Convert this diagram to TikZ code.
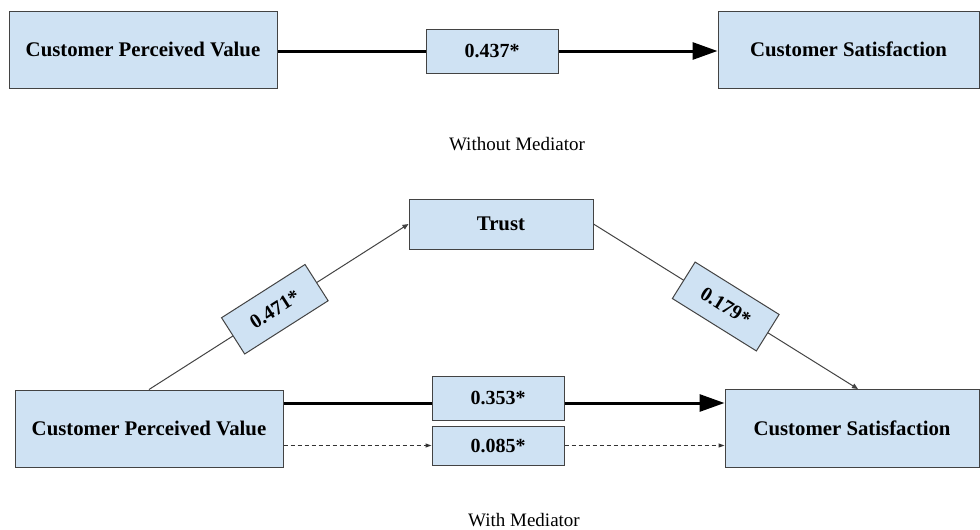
\documentclass[tikz,border=0pt]{standalone}
\usepackage{fontspec}
\setmainfont{Liberation Serif}
\usetikzlibrary{arrows.meta}
\definecolor{boxfill}{HTML}{CFE2F3}
\definecolor{boxline}{HTML}{434343}
\tikzset{
  varbox/.style={draw=boxline, line width=1pt, fill=boxfill, inner sep=0pt, font=\fontsize{20.8}{24}\selectfont\bfseries},
  coefbox/.style={draw=boxline, line width=1pt, fill=boxfill, inner sep=0pt, minimum width=132pt, font=\fontsize{20}{24}\selectfont\bfseries},
  slopebox/.style={draw=boxline, line width=1pt, fill=boxfill, inner sep=0pt, minimum width=99pt, minimum height=43pt, sloped, font=\fontsize{20}{24}\selectfont\bfseries},
  thickarrow/.style={line width=3pt, -{Triangle[length=25pt,width=17pt]}},
  thickline/.style={line width=3pt},
  thinarrow/.style={line width=1pt, draw=boxline, -{Triangle[length=6pt,width=5pt]}},
  dasharrow/.style={line width=1.1pt, draw=black!80, dash pattern=on 4pt off 3pt, -{Triangle[length=6pt,width=4pt]}},
  caption/.style={font=\fontsize{19}{22}\selectfont, anchor=base}
}
\begin{document}
\begin{tikzpicture}[x=1pt, y=-1pt]
\useasboundingbox (0,0) rectangle (980,530);
% top
\node[varbox, minimum width=268pt, minimum height=77pt] (cpv1) at (143,49.5) {Customer Perceived Value};
\node[varbox, minimum width=261pt, minimum height=77pt] (cs1) at (848.5,49.5) {Customer Satisfaction};
\node[coefbox, minimum height=44pt] (l437) at (492,51) {0.437*};
\draw[thickline] (cpv1.east |- l437) -- (l437.west);
\draw[thickarrow] (l437.east) -- (cs1.west |- l437);
\node[caption] (cap1) at (517,150) {Without Mediator};
% bottom
\node[varbox, minimum width=184pt, minimum height=50pt] (trust) at (501,224) {Trust};
\node[varbox, minimum width=268pt, minimum height=77pt] (cpv2) at (149,428.5) {Customer Perceived Value};
\node[varbox, minimum width=254pt, minimum height=78pt] (cs2) at (852,428) {Customer Satisfaction};
\node[coefbox, minimum height=44pt] (l353) at (498,398) {0.353*};
\node[coefbox, minimum height=39pt] (l085) at (498,445.5) {0.085*};
\coordinate (mainy) at (0,403);
\coordinate (csin) at (858,389);
\draw[thickline] (cpv2.east |- mainy) -- (l353.west |- mainy);
\draw[thickarrow] (l353.east |- mainy) -- (cs2.west |- mainy);
\draw[dasharrow] (cpv2.east |- l085) -- (l085.west);
\draw[dasharrow] (l085.east) -- (cs2.west |- l085);
\draw[thinarrow] (cpv2.north) -- node[slopebox, pos=0.485] (l471) {0.471*} (trust.west);
\draw[thinarrow] (trust.east) -- node[slopebox, midway] (l179) {0.179*} (csin);
\node[caption] (cap2) at (524,526.5) {With Mediator};
\end{tikzpicture}
\end{document}
